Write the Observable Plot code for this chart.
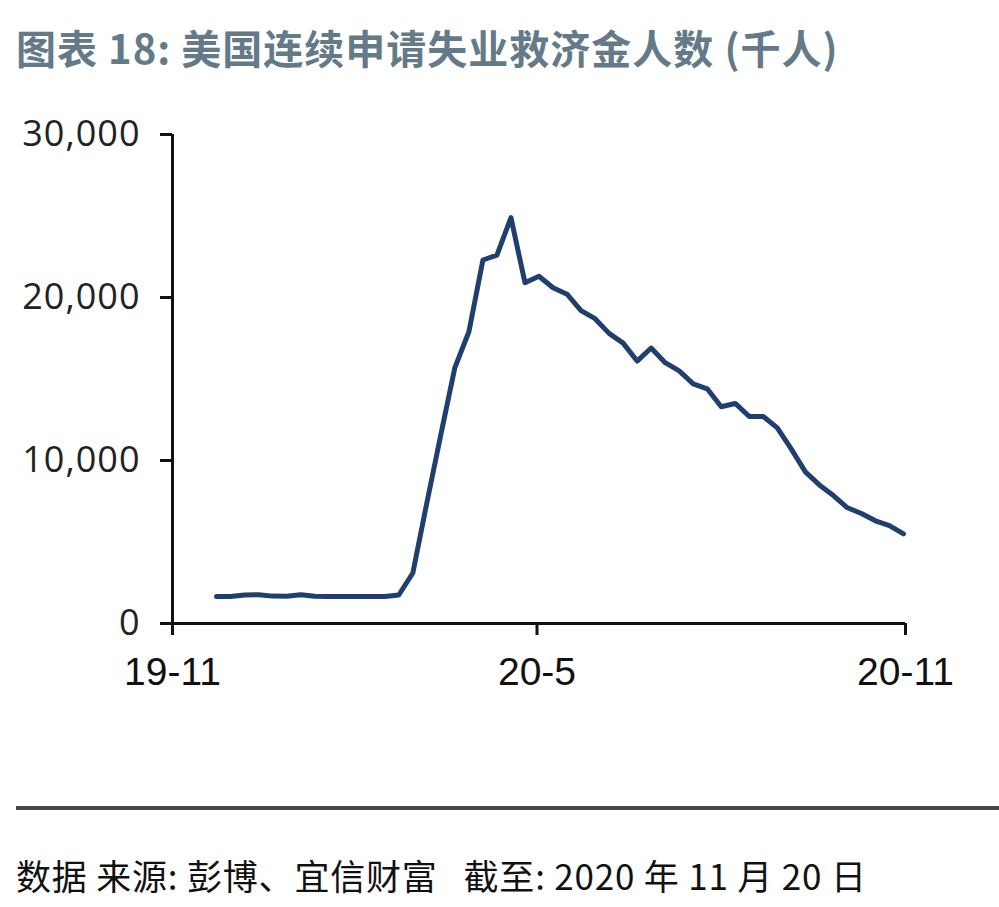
<!DOCTYPE html>
<html>
<head>
<meta charset="utf-8">
<script src="https://cdn.jsdelivr.net/npm/d3@7"></script>
<script src="https://cdn.jsdelivr.net/npm/@observablehq/plot@0.6"></script>
<style>
  html, body { margin: 0; padding: 0; background: #fff; }
  body { width: 999px; height: 907px; position: relative; overflow: hidden; }
  #title { position: absolute; left: 16px; top: 23px; font-family: "Noto Sans CJK SC", sans-serif; font-weight: 700; font-size: 40px; letter-spacing: 1px; color: #647a89; white-space: pre; line-height: 1.2; }
  #chart { position: absolute; left: 0; top: 100px; }
  #rule { position: absolute; left: 16px; right: 0; top: 806px; height: 4px; background: #454545; }
  #footer { position: absolute; left: 16px; top: 854px; font-family: "Noto Sans CJK SC", sans-serif; font-size: 35px; letter-spacing: 0.8px; color: #111; white-space: pre; line-height: 1.2; }
  #chart svg [aria-label^="y-axis"] text { font-family: "Open Sans", sans-serif; font-size: 36px; letter-spacing: 1px; fill: #222; }
  #chart svg [aria-label^="x-axis"] text { font-family: "Liberation Sans", sans-serif; font-size: 39px; fill: #111; }
  #chart svg [aria-label^="y-axis"] line, #chart svg [aria-label^="x-axis"] line,
  #chart svg [aria-label^="y-axis"] path, #chart svg [aria-label^="x-axis"] path { stroke: #111; stroke-width: 3px; }
</style>
</head>
<body>
<div id="title">图表 18: 美国连续申请失业救济金人数 (千人)</div>
<div id="chart"></div>
<div id="rule"></div>
<div id="footer">数据 来源: 彭博、宜信财富   截至: 2020 年 11 月 20 日</div>
<script>
// Weekly dates (as positioned in the reference)
const dates = [
  "2019-11-23","2019-11-30","2019-12-07","2019-12-14","2019-12-21","2019-12-28",
  "2020-01-04","2020-01-11","2020-01-18","2020-01-25",
  "2020-02-01","2020-02-08","2020-02-15","2020-02-22","2020-02-29",
  "2020-03-07","2020-03-14","2020-03-21","2020-03-28",
  "2020-04-04","2020-04-11","2020-04-18","2020-04-25",
  "2020-05-02","2020-05-09","2020-05-16","2020-05-23","2020-05-30",
  "2020-06-06","2020-06-13","2020-06-20","2020-06-27",
  "2020-07-04","2020-07-11","2020-07-18","2020-07-25",
  "2020-08-01","2020-08-08","2020-08-15","2020-08-22","2020-08-29",
  "2020-09-05","2020-09-12","2020-09-19","2020-09-26",
  "2020-10-03","2020-10-10","2020-10-17","2020-10-24","2020-10-31"
];
// Continuing claims, thousands of persons
const claims = [
  1650, 1650, 1750, 1760, 1680, 1670,
  1760, 1670, 1650, 1650,
  1650, 1650, 1660, 1750, 3100,
  7400, 11600, 15700, 17900,
  22300, 22600, 24900, 20900,
  21300, 20600, 20200, 19200, 18700,
  17800, 17200, 16100, 16900,
  16000, 15500, 14700, 14400,
  13300, 13500, 12700, 12700, 12000,
  10700, 9300, 8500, 7850,
  7100, 6750, 6300, 6000, 5500
];
const xTicks = ["2019-11-01", "2020-05-01", "2020-11-01"];
const yTicks = [0, 10000, 20000, 30000];

const data = dates.map((d, i) => ({date: new Date(d + "T00:00:00Z"), value: claims[i]}));
const xDomain = [new Date(xTicks[0] + "T00:00:00Z"), new Date(xTicks[2] + "T00:00:00Z")];

const chart = Plot.plot({
  width: 999,
  height: 620,
  marginLeft: 172,
  marginRight: 94,
  marginTop: 34,
  marginBottom: 97,
  style: {background: "#fff", overflow: "visible"},
  x: {
    type: "utc",
    domain: xDomain,
    ticks: xTicks.map(t => new Date(t + "T00:00:00Z")),
    tickFormat: d => `${String(d.getUTCFullYear()).slice(2)}-${d.getUTCMonth() + 1}`,
    tickSize: 12,
    tickPadding: 22,
    label: null
  },
  y: {
    domain: [0, 30000],
    ticks: yTicks,
    tickFormat: d3.format(","),
    tickSize: 12,
    tickPadding: 20,
    label: null
  },
  marks: [
    Plot.ruleY([0], {stroke: "#111", strokeWidth: 3}),
    Plot.ruleX([xDomain[0]], {y1: 0, y2: 30000, stroke: "#111", strokeWidth: 3}),
    Plot.line(data, {x: "date", y: "value", stroke: "#213f6e", strokeWidth: 5})
  ]
});
document.getElementById("chart").appendChild(chart);
</script>
</body>
</html>
